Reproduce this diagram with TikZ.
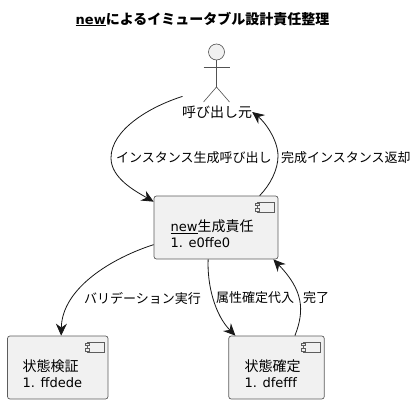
\documentclass[tikz,border=0pt]{standalone}
\usepackage{fontspec}
\usetikzlibrary{arrows.meta,calc}
\setmainfont[Scale=0.93]{DejaVu Sans}
\newfontfamily\cjk{Noto Sans CJK JP}
\newcommand{\ul}[1]{\underline{#1}}
\definecolor{ink}{HTML}{181818}
\definecolor{boxfill}{HTML}{F1F1F1}
\tikzset{
  comp/.style={draw=ink!70,line width=.7pt,fill=boxfill,rounded corners=2.5pt,inner sep=0pt},
  icon/.style={draw=ink!70,line width=.5pt,fill=boxfill,inner sep=0pt},
  txt/.style={inner sep=0pt,align=left,text=black,font=\fontsize{14}{16}\selectfont},
  lbl/.style={inner sep=0pt,text=black,font=\fontsize{13}{15}\selectfont\cjk},
  conn/.style={draw=ink,line width=.8pt,-{Stealth[length=12pt,width=11pt,inset=4pt]}},
  limb/.style={draw=ink!75,line width=.6pt}
}
\newcommand{\compicon}[1]{%
  \node[icon,minimum width=17pt,minimum height=10pt,anchor=north east] at ([shift={(-4,6)}]#1.north east) (#1i) {};
  \node[icon,minimum width=4pt,minimum height=2.5pt] at ([shift={(0,2.5)}]#1i.north west) {};
  \node[icon,minimum width=4pt,minimum height=2.5pt] at ([shift={(0,-2.5)}]#1i.south west) {};
}
\begin{document}
\begin{tikzpicture}[x=1pt,y=-1pt]
\useasboundingbox (0,0) rectangle (417,404);
\fill[white] (0,0) rectangle (417,404);
% title
\node[inner sep=0pt,anchor=west,font=\fontsize{14}{16}\selectfont\bfseries] (title) at (75.5,19) {\ul{new}\cjk によるイミュータブル設計責任整理};
% actor
\node[circle,draw=ink!75,line width=.6pt,fill=boxfill,minimum size=16pt,inner sep=0pt] (head) at (216.5,52) {};
\coordinate (hip) at (216.5,87);
\coordinate (armL) at (203.5,67);
\coordinate (armR) at (229.5,67);
\coordinate (legL) at (203.5,102);
\coordinate (legR) at (229.5,102);
\draw[limb] (head.south) -- (hip);
\draw[limb] (armL) -- (armR);
\draw[limb] (legL) -- (hip) -- (legR);
\node[inner sep=0pt,text=black,font=\fontsize{14}{16}\selectfont\cjk] (caller) at (217,112) {呼び出し元};
% components
\node[comp,minimum width=124pt,minimum height=63pt] (new) at (216,227.5) {};
\node[comp,minimum width=100.5pt,minimum height=63pt] (chk) at (57.75,367.5) {};
\node[comp,minimum width=95.5pt,minimum height=63pt] (fix) at (276.5,367.5) {};
\compicon{new}
\compicon{chk}
\compicon{fix}
\node[txt,anchor=west] (newt) at (170.5,234) {\ul{new}{\cjk 生成責任}\\1. e0ffe0};
\node[txt,anchor=west] (chkt) at (22.5,374) {{\cjk 状態検証}\\1. ffdede};
\node[txt,anchor=west] (fixt) at (244.5,374) {{\cjk 状態確定}\\1. dfefff};
% connectors
\coordinate (a1) at ([shift={(-34.5,-9)}]caller.north);
\draw[conn] (a1) .. controls (149,107) and (111,130) .. (111,158)
  .. controls (111,178) and (135,191) .. ([shift={(0,6)}]new.north west);
\draw[conn] ([shift={(106,0)}]new.north west) .. controls (270,185) and (278,170) .. (278,156)
  .. controls (278,140) and (265,122) .. (caller.east);
\draw[conn] ([shift={(0,49)}]new.north west) .. controls (112,258) and (62,288) .. ([shift={(54,0)}]chk.north west);
\draw[conn] ([shift={(54.5,0)}]new.south west) .. controls (207,285) and (215,315) .. ([shift={(7,0)}]fix.north west);
\draw[conn] ([shift={(66.5,0)}]fix.north west) .. controls (305,310) and (303,290) .. ([shift={(-5,0)}]new.south east);
% labels
\node[lbl,anchor=west] (l1) at (116,158) {インスタンス生成呼び出し};
\node[lbl,anchor=west] (l2) at (281,158) {完成インスタンス返却};
\node[lbl,anchor=west] (l3) at (84,298) {バリデーション実行};
\node[lbl,anchor=west] (l4) at (216,298) {属性確定代入};
\node[lbl,anchor=west] (l5) at (303,298) {完了};
\end{tikzpicture}
\end{document}
